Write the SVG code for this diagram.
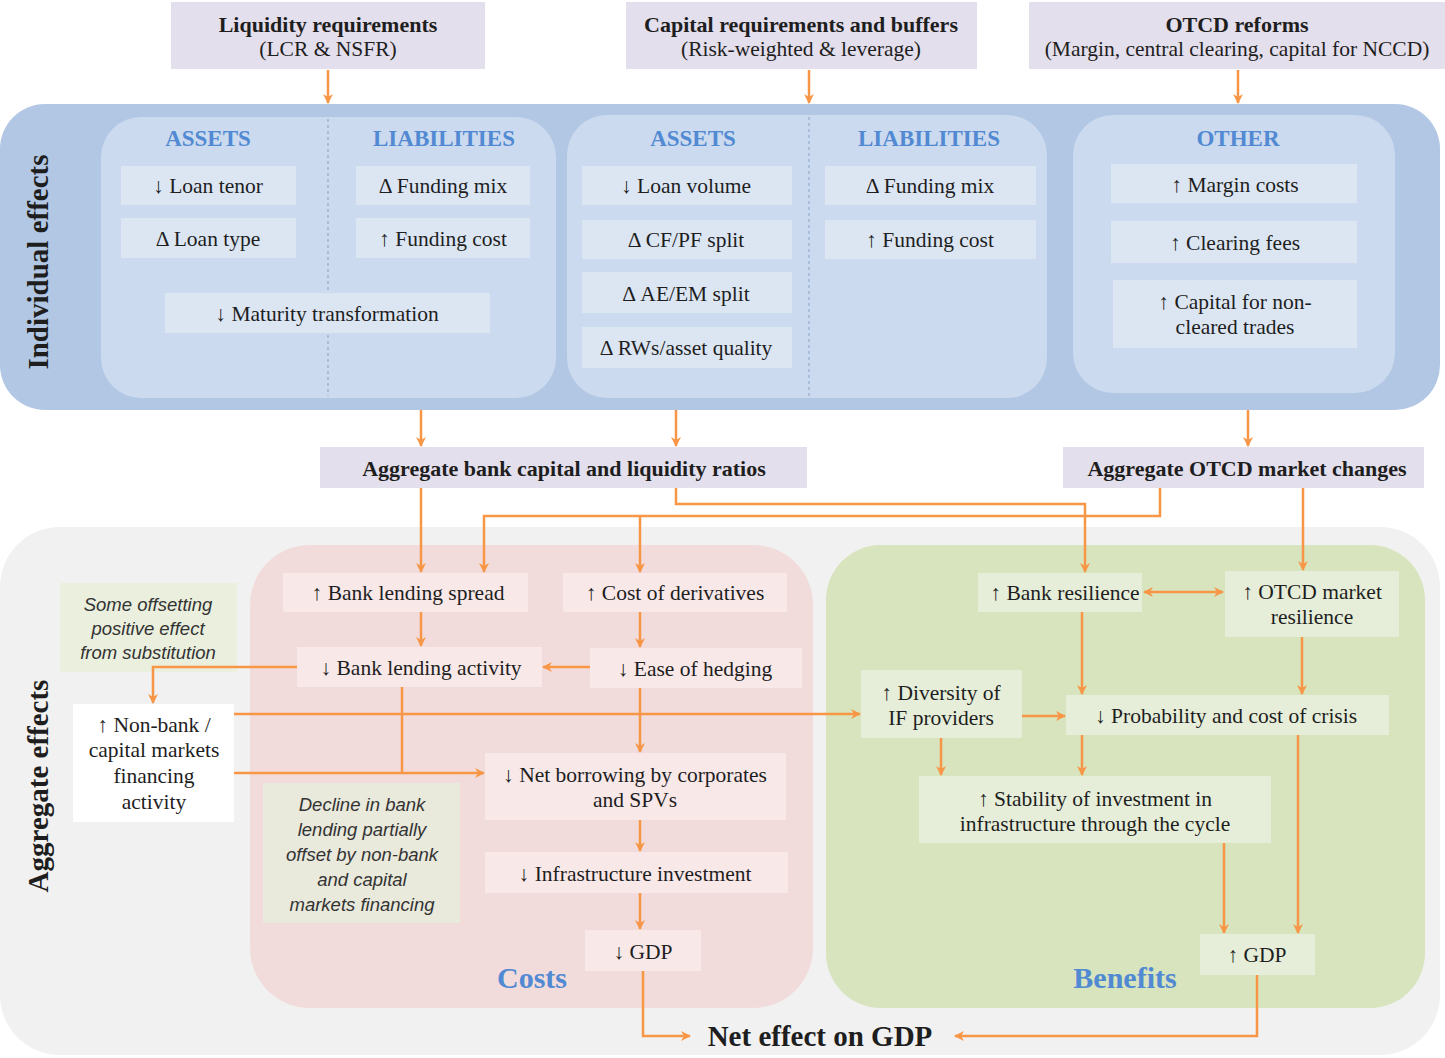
<svg xmlns="http://www.w3.org/2000/svg" width="1445" height="1058" viewBox="0 0 1445 1058">
<defs>
<style>
text{font-family:"Liberation Serif","Times New Roman",serif;fill:#1e1e1e;text-anchor:middle;dominant-baseline:central}
.t{font-size:21.5px}
.b{font-size:22px;font-weight:bold}
.h{font-size:23px;font-weight:bold;fill:#5189d3}
.v{font-size:29px;font-weight:bold}
.lab{font-size:30px;font-weight:bold;fill:#5189d3}
.n{font-family:"Liberation Sans",Arial,sans-serif;font-style:italic;font-size:18.5px;fill:#333}
.top{fill:#e4dfec}
.ib{fill:#dce6f3}
.pk{fill:#f8e8e8}
.gr{fill:#e6eed9}
.c{fill:none;stroke:#f79646;stroke-width:2.5}
.d{stroke:#8aa3c4;stroke-width:1;stroke-dasharray:3 3;fill:none}
</style>
<marker id="a" viewBox="0 0 10 10" refX="9" refY="5" markerWidth="4" markerHeight="4" orient="auto-start-reverse"><path d="M0,0 L10,5 L0,10 L3,5 z" fill="#f79646"/></marker>
</defs>
<rect width="1445" height="1058" fill="#ffffff"/>

<!-- panels -->
<g id="panel-individual">
<rect x="0" y="104" width="1440" height="306" rx="45" fill="#b1c7e4"/>
<rect x="101" y="117" width="455" height="281" rx="40" fill="#cbdaee"/>
<rect x="567" y="115" width="480" height="283" rx="40" fill="#cbdaee"/>
<rect x="1073" y="115" width="322" height="278" rx="40" fill="#cbdaee"/>
<line class="d" x1="328" y1="119" x2="328" y2="396"/>
<line class="d" x1="809" y1="117" x2="809" y2="396"/>
<text class="v" transform="translate(38,262) rotate(-90)">Individual effects</text>
<text class="h" x="208" y="138">ASSETS</text>
<text class="h" x="444" y="138">LIABILITIES</text>
<text class="h" x="693" y="138">ASSETS</text>
<text class="h" x="929" y="138">LIABILITIES</text>
<text class="h" x="1238" y="138">OTHER</text>
</g>
<g id="panel-aggregate">
<rect x="0" y="527" width="1440" height="528" rx="60" fill="#f1f1f1"/>
<rect x="250" y="545" width="563" height="463" rx="60" fill="#f2dcdb"/>
<rect x="826" y="545" width="599" height="463" rx="55" fill="#d8e4bd"/>
<text class="v" transform="translate(38,786) rotate(-90)">Aggregate effects</text>
<text class="lab" x="532" y="977">Costs</text>
<text class="lab" x="1125" y="977">Benefits</text>
</g>

<!-- top nodes -->
<g id="n-liquidity"><rect class="top" x="171" y="2" width="314" height="67"/><text class="b" x="328" y="24">Liquidity requirements</text><text class="t" x="328" y="49">(LCR &amp; NSFR)</text></g>
<g id="n-capital"><rect class="top" x="626" y="2" width="351" height="67"/><text class="b" x="801" y="24">Capital requirements and buffers</text><text class="t" x="801" y="49">(Risk-weighted &amp; leverage)</text></g>
<g id="n-otcd"><rect class="top" x="1029" y="2" width="416" height="67"/><text class="b" x="1237" y="24">OTCD reforms</text><text class="t" x="1237" y="49">(Margin, central clearing, capital for NCCD)</text></g>

<!-- individual effects items -->
<g id="n-loan-tenor"><rect class="ib" x="121" y="166" width="175" height="39"/><text class="t" x="208" y="186">↓ Loan tenor</text></g>
<g id="n-loan-type"><rect class="ib" x="121" y="218" width="175" height="40"/><text class="t" x="208" y="239">Δ Loan type</text></g>
<g id="n-funding-mix-1"><rect class="ib" x="356" y="166" width="174" height="39"/><text class="t" x="443" y="186">Δ Funding mix</text></g>
<g id="n-funding-cost-1"><rect class="ib" x="356" y="218" width="174" height="40"/><text class="t" x="443" y="239">↑ Funding cost</text></g>
<g id="n-maturity"><rect class="ib" x="165" y="293" width="325" height="40"/><text class="t" x="327" y="314">↓ Maturity transformation</text></g>
<g id="n-loan-volume"><rect class="ib" x="582" y="166" width="210" height="39"/><text class="t" x="686" y="186">↓ Loan volume</text></g>
<g id="n-cfpf"><rect class="ib" x="582" y="220" width="210" height="39"/><text class="t" x="686" y="240">Δ CF/PF split</text></g>
<g id="n-aeem"><rect class="ib" x="582" y="272" width="210" height="41"/><text class="t" x="686" y="294">Δ AE/EM split</text></g>
<g id="n-rws"><rect class="ib" x="582" y="327" width="210" height="41"/><text class="t" x="686" y="348">Δ RWs/asset quality</text></g>
<g id="n-funding-mix-2"><rect class="ib" x="825" y="166" width="211" height="39"/><text class="t" x="930" y="186">Δ Funding mix</text></g>
<g id="n-funding-cost-2"><rect class="ib" x="825" y="220" width="211" height="39"/><text class="t" x="930" y="240">↑ Funding cost</text></g>
<g id="n-margin"><rect class="ib" x="1111" y="164" width="246" height="39"/><text class="t" x="1235" y="185">↑ Margin costs</text></g>
<g id="n-clearing"><rect class="ib" x="1111" y="221" width="246" height="42"/><text class="t" x="1235" y="243">↑ Clearing fees</text></g>
<g id="n-capital-nc"><rect class="ib" x="1113" y="280" width="244" height="68"/><text class="t" x="1235" y="302">↑ Capital for non-</text><text class="t" x="1235" y="327">cleared trades</text></g>

<!-- aggregate boxes -->
<g id="n-agg-bank"><rect class="top" x="320" y="447" width="487" height="41"/><text class="b" x="564" y="468">Aggregate bank capital and liquidity ratios</text></g>
<g id="n-agg-otcd"><rect class="top" x="1063" y="447" width="361" height="41"/><text class="b" x="1247" y="468">Aggregate OTCD market changes</text></g>

<!-- costs -->
<g id="n-spread"><rect class="pk" x="283" y="573" width="245" height="39"/><text class="t" x="408" y="593">↑ Bank lending spread</text></g>
<g id="n-derivatives"><rect class="pk" x="563" y="573" width="224" height="39"/><text class="t" x="675" y="593">↑ Cost of derivatives</text></g>
<g id="n-lending-activity"><rect class="pk" x="297" y="647" width="245" height="40"/><text class="t" x="421" y="668">↓ Bank lending activity</text></g>
<g id="n-hedging"><rect class="pk" x="590" y="648" width="212" height="40"/><text class="t" x="695" y="669">↓ Ease of hedging</text></g>
<g id="n-net-borrowing"><rect class="pk" x="485" y="753" width="301" height="67"/><text class="t" x="635" y="775">↓ Net borrowing by corporates</text><text class="t" x="635" y="800">and SPVs</text></g>
<g id="n-infra"><rect class="pk" x="485" y="852" width="303" height="41"/><text class="t" x="635" y="874">↓ Infrastructure investment</text></g>
<g id="n-gdp-down"><rect class="pk" x="585" y="930" width="116" height="41"/><text class="t" x="643" y="952">↓ GDP</text></g>
<g id="n-note-decline"><rect x="263" y="783" width="197" height="140" fill="#e9e9dc"/><text class="n" x="362" y="804">Decline in bank</text><text class="n" x="362" y="829">lending partially</text><text class="n" x="362" y="854">offset by non-bank</text><text class="n" x="362" y="879">and capital</text><text class="n" x="362" y="904">markets financing</text></g>

<!-- left -->
<g id="n-note-offset"><rect x="60" y="583" width="177" height="89" fill="#eaefde"/><text class="n" x="148" y="604">Some offsetting</text><text class="n" x="148" y="628">positive effect</text><text class="n" x="148" y="652">from substitution</text></g>
<g id="n-nonbank"><rect x="73" y="704" width="161" height="118" fill="#ffffff"/><text class="t" x="154" y="725">↑ Non-bank /</text><text class="t" x="154" y="750">capital markets</text><text class="t" x="154" y="776">financing</text><text class="t" x="154" y="802">activity</text></g>

<!-- benefits -->
<g id="n-bank-resilience"><rect class="gr" x="978" y="573" width="164" height="39"/><text class="t" x="1065" y="593">↑ Bank resilience</text></g>
<g id="n-otcd-resilience"><rect class="gr" x="1225" y="571" width="174" height="66"/><text class="t" x="1312" y="592">↑ OTCD market</text><text class="t" x="1312" y="617">resilience</text></g>
<g id="n-diversity"><rect class="gr" x="861" y="670" width="161" height="68"/><text class="t" x="941" y="693">↑ Diversity of</text><text class="t" x="941" y="718">IF providers</text></g>
<g id="n-crisis"><rect class="gr" x="1066" y="695" width="323" height="40"/><text class="t" x="1226" y="716">↓ Probability and cost of crisis</text></g>
<g id="n-stability"><rect class="gr" x="919" y="776" width="352" height="67"/><text class="t" x="1095" y="799">↑ Stability of investment in</text><text class="t" x="1095" y="824">infrastructure through the cycle</text></g>
<g id="n-gdp-up"><rect class="gr" x="1200" y="934" width="115" height="41"/><text class="t" x="1257" y="955">↑ GDP</text></g>

<g id="n-net-effect"><text x="820" y="1036" style="font-size:29px;font-weight:bold">Net effect on GDP</text></g>

<!-- connectors -->
<g id="connectors">
<path class="c" marker-end="url(#a)" d="M328,70 V103"/>
<path class="c" marker-end="url(#a)" d="M809,70 V103"/>
<path class="c" marker-end="url(#a)" d="M1238,70 V103"/>
<path class="c" marker-end="url(#a)" d="M421,410 V446"/>
<path class="c" marker-end="url(#a)" d="M676,410 V446"/>
<path class="c" marker-end="url(#a)" d="M1248,410 V446"/>
<path class="c" marker-end="url(#a)" d="M421,488 V572"/>
<path class="c" marker-end="url(#a)" d="M1160,488 V516 H484 V572"/>
<path class="c" marker-end="url(#a)" d="M640,516 V572"/>
<path class="c" marker-end="url(#a)" d="M676,488 V504 H1085 V572"/>
<path class="c" marker-end="url(#a)" d="M1303,488 V570"/>
<path class="c" marker-end="url(#a)" d="M421,612 V646"/>
<path class="c" marker-end="url(#a)" d="M640,612 V647"/>
<path class="c" marker-end="url(#a)" d="M590,667 H543"/>
<path class="c" marker-end="url(#a)" d="M297,667 H153 V703"/>
<path class="c" marker-end="url(#a)" d="M234,714 H860"/>
<path class="c" marker-end="url(#a)" d="M234,773 H484"/>
<path class="c" d="M402,687 V773"/>
<path class="c" marker-end="url(#a)" d="M640,688 V752"/>
<path class="c" marker-end="url(#a)" d="M640,820 V851"/>
<path class="c" marker-end="url(#a)" d="M640,893 V929"/>
<path class="c" marker-end="url(#a)" d="M643,971 V1036 H690"/>
<path class="c" marker-end="url(#a)" d="M1257,975 V1036 H955"/>
<path class="c" marker-start="url(#a)" marker-end="url(#a)" d="M1144,592 H1223"/>
<path class="c" marker-end="url(#a)" d="M1082,612 V694"/>
<path class="c" marker-end="url(#a)" d="M1302,637 V694"/>
<path class="c" marker-end="url(#a)" d="M1022,716 H1065"/>
<path class="c" marker-end="url(#a)" d="M941,738 V775"/>
<path class="c" marker-end="url(#a)" d="M1082,735 V775"/>
<path class="c" marker-end="url(#a)" d="M1224,843 V933"/>
<path class="c" marker-end="url(#a)" d="M1298,735 V933"/>
</g>
</svg>
